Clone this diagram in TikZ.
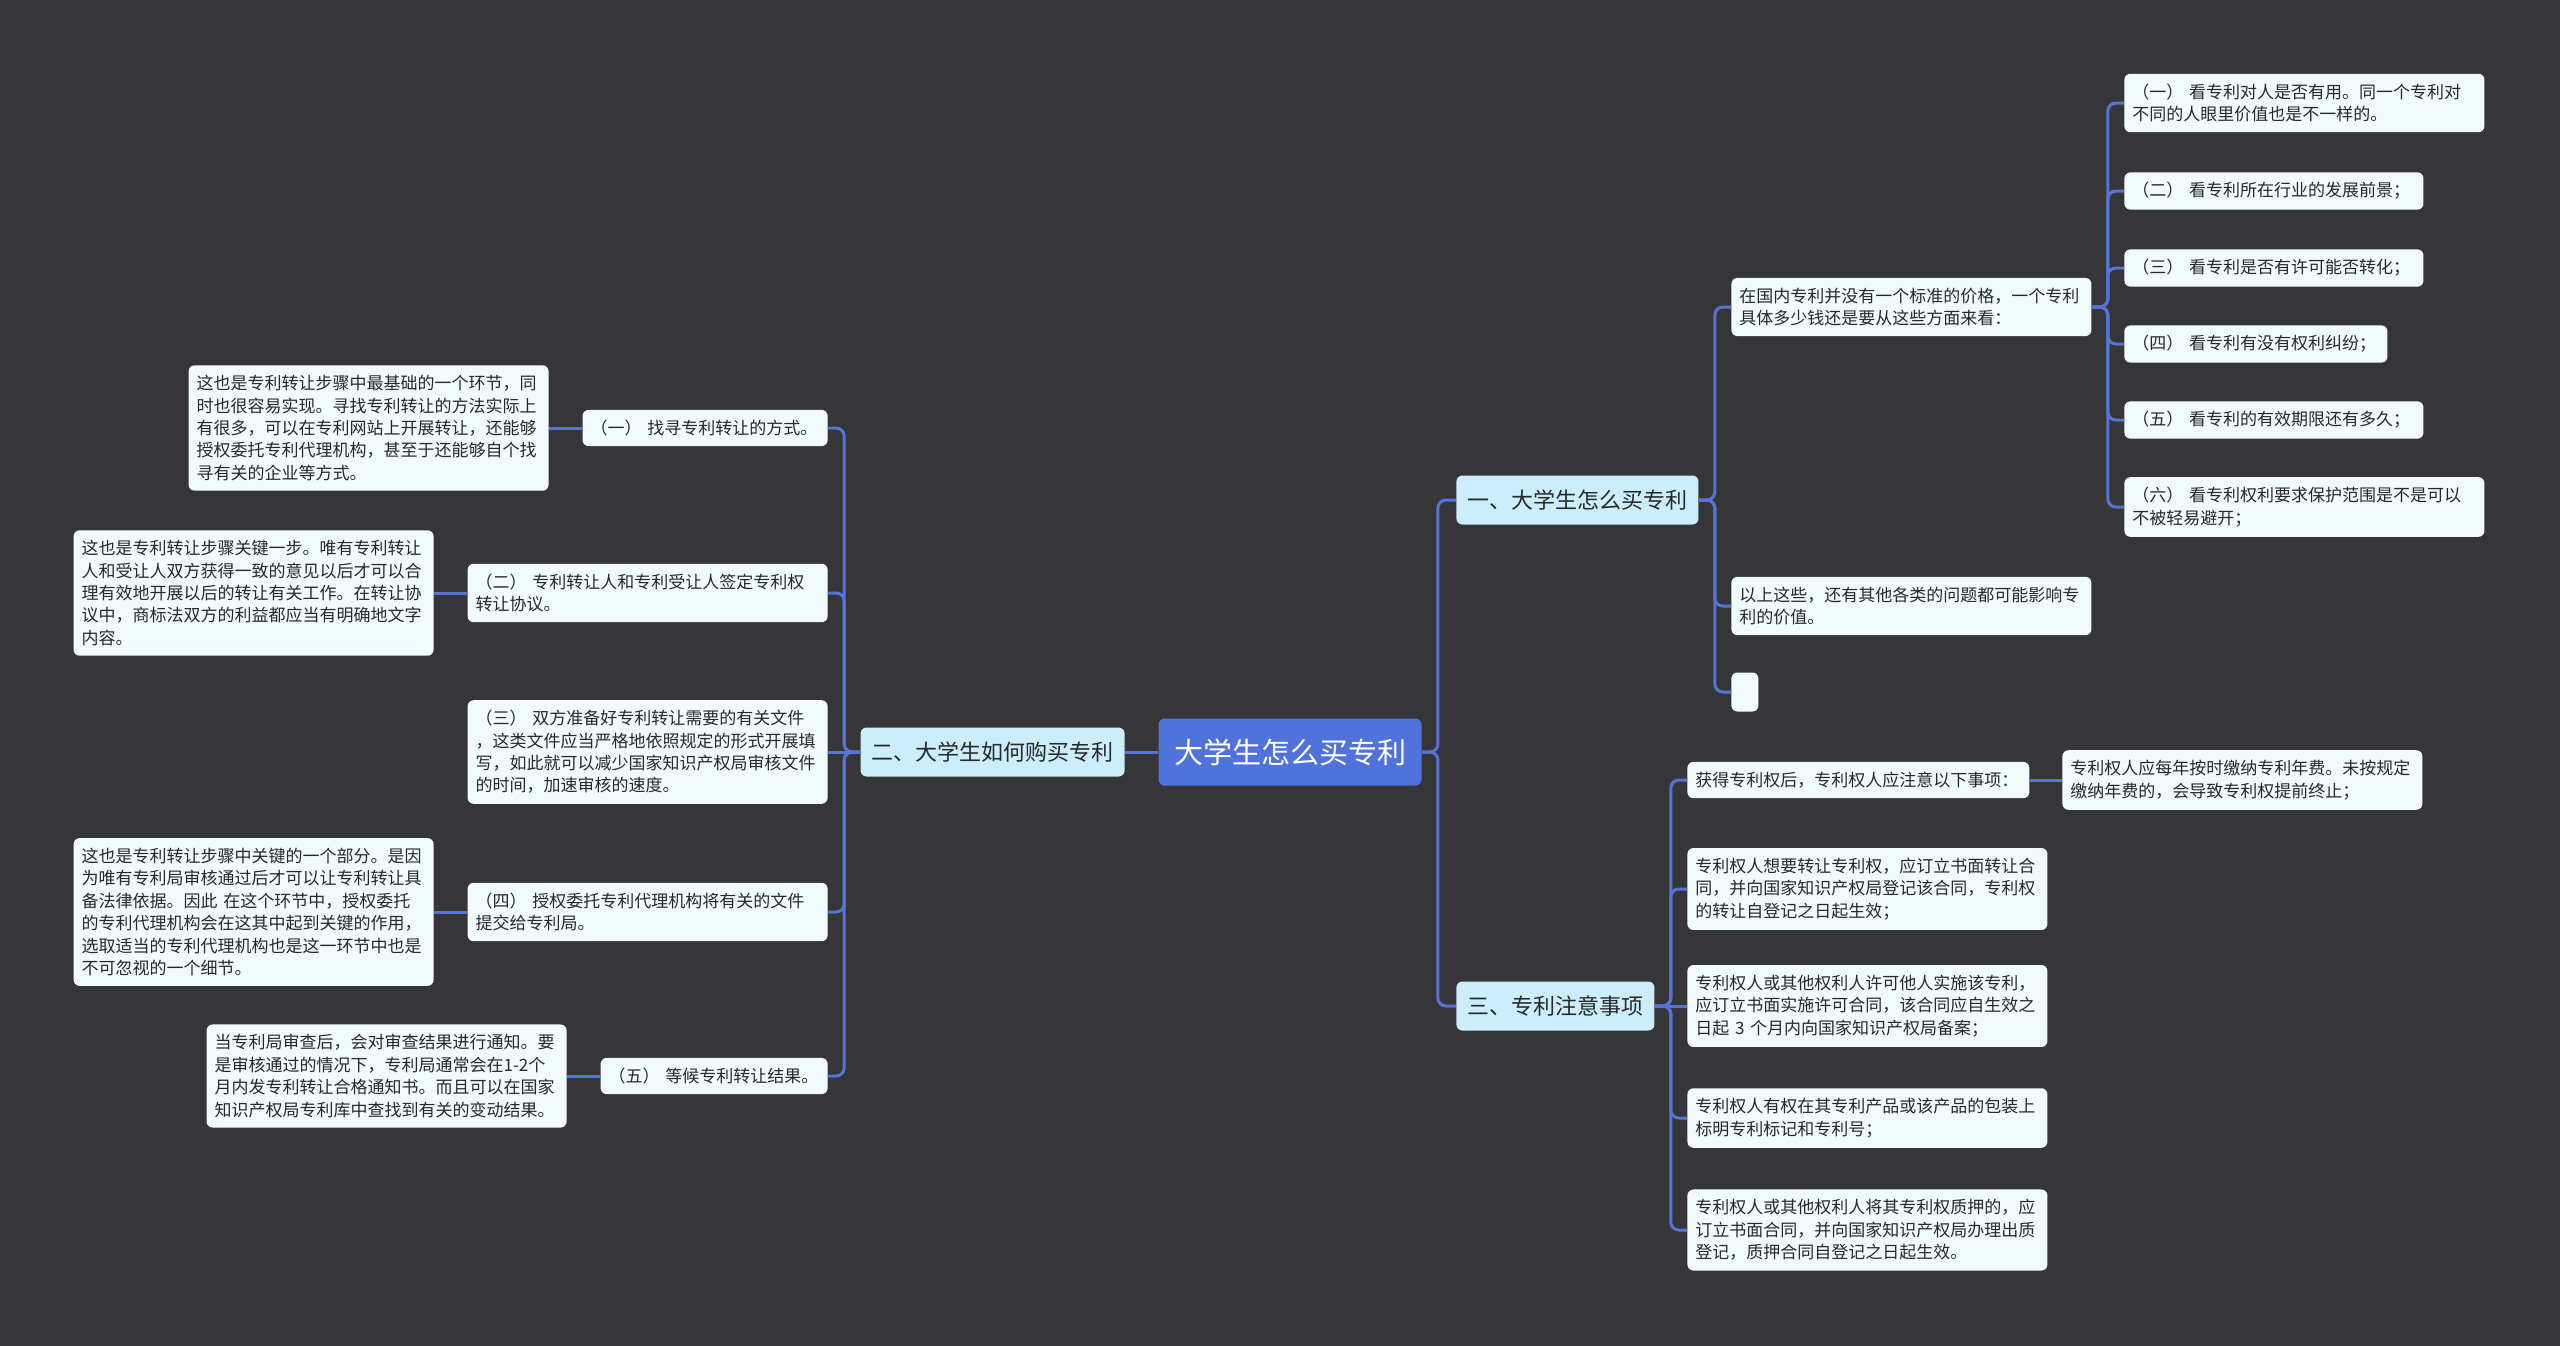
\documentclass[tikz,border=0pt]{standalone}
\usepackage{fontspec}
\setmainfont{Noto Sans CJK SC}
\definecolor{canvas}{RGB}{54,53,55}
\definecolor{rootblue}{RGB}{80,114,219}
\definecolor{linkblue}{RGB}{86,116,216}
\definecolor{topicbg}{RGB}{204,237,252}
\definecolor{leafbg}{RGB}{241,251,253}
\definecolor{ink}{RGB}{40,40,40}
\begin{document}
\begin{tikzpicture}[x=0.5pt, y=-0.5pt,
        root/.style={fill=rootblue, text=white, rounded corners=3pt, font=\fontsize{14.5}{17}\selectfont,
            minimum width=131.5pt, minimum height=33.5pt, inner sep=0pt},
        topic/.style={fill=topicbg, text=ink, rounded corners=3pt, font=\fontsize{11}{13}\selectfont,
            inner xsep=5.5pt, inner ysep=0pt, minimum height=24.5pt},
        leaf/.style={fill=leafbg, text=ink, rounded corners=3pt, font=\fontsize{8.5}{11.2}\selectfont,
            align=left, inner xsep=4pt, inner ysep=5pt, text width=#1},
        leaf/.default=172pt,
        link/.style={draw=linkblue, line width=1.5pt, rounded corners=4pt}]
    \useasboundingbox (0,0) rectangle (2560,1345);
    \fill[canvas] (-10,-10) rectangle (2570,1355);

    \node[root] (root) at (1290,752) {大学生怎么买专利};
    \node[topic, anchor=west] (buy) at (1456,500) {一、大学生怎么买专利};
    \node[topic, anchor=east] (how) at (1125,752) {二、大学生如何购买专利};
    \node[topic, anchor=west] (note) at (1456,1006) {三、专利注意事项};

    \node[leaf, anchor=west] (price) at (1731,307) {在国内专利并没有一个标准的价格，一个专利\\具体多少钱还是要从这些方面来看：};
    \node[leaf, anchor=west] (other) at (1731,606) {以上这些，还有其他各类的问题都可能影响专\\利的价值。};
    \node[leaf=0pt, anchor=west, inner sep=0pt, minimum width=13.5pt, minimum height=19.5pt] (blank) at (1731,692) {};

    \node[leaf, anchor=west] (look1) at (2124,103) {（一）~看专利对人是否有用。同一个专利对\\不同的人眼里价值也是不一样的。};
    \node[leaf=141.5pt, anchor=west] (look2) at (2124,191) {（二）~看专利所在行业的发展前景；};
    \node[leaf=141.5pt, anchor=west] (look3) at (2124,268) {（三）~看专利是否有许可能否转化；};
    \node[leaf=123.5pt, anchor=west] (look4) at (2124,344) {（四）~看专利有没有权利纠纷；};
    \node[leaf=141.5pt, anchor=west] (look5) at (2124,420) {（五）~看专利的有效期限还有多久；};
    \node[leaf, anchor=west] (look6) at (2124,507) {（六）~看专利权利要求保护范围是不是可以\\不被轻易避开；};

    \node[leaf=163pt, anchor=west] (after) at (1687,780) {获得专利权后，专利权人应注意以下事项：};
    \node[leaf, anchor=west] (fee) at (2062,780) {专利权人应每年按时缴纳专利年费。未按规定\\缴纳年费的，会导致专利权提前终止；};
    \node[leaf, anchor=west] (transfer) at (1687,889) {专利权人想要转让专利权，应订立书面转让合\\同，并向国家知识产权局登记该合同，专利权\\的转让自登记之日起生效；};
    \node[leaf, anchor=west] (license) at (1687,1006) {专利权人或其他权利人许可他人实施该专利，\\应订立书面实施许可合同，该合同应自生效之\\日起 3 个月内向国家知识产权局备案；};
    \node[leaf, anchor=west] (mark) at (1687,1118) {专利权人有权在其专利产品或该产品的包装上\\标明专利标记和专利号；};
    \node[leaf, anchor=west] (pledge) at (1687,1230) {专利权人或其他权利人将其专利权质押的，应\\订立书面合同，并向国家知识产权局办理出质\\登记，质押合同自登记之日起生效。};

    \node[leaf=114.5pt, anchor=east] (find) at (828,428) {（一）~找寻专利转让的方式。};
    \node[leaf, anchor=east] (sign) at (828,593) {（二）~专利转让人和专利受让人签定专利权\\转让协议。};
    \node[leaf, anchor=east] (files) at (828,752) {（三）~双方准备好专利转让需要的有关文件\\，这类文件应当严格地依照规定的形式开展填\\写，如此就可以减少国家知识产权局审核文件\\的时间，加速审核的速度。};
    \node[leaf, anchor=east] (agent) at (828,912) {（四）~授权委托专利代理机构将有关的文件\\提交给专利局。};
    \node[leaf=105.5pt, anchor=east] (wait) at (828,1076) {（五）~等候专利转让结果。};

    \node[leaf, anchor=east] (findnote) at (549,428) {这也是专利转让步骤中最基础的一个环节，同\\时也很容易实现。寻找专利转让的方法实际上\\有很多，可以在专利网站上开展转让，还能够\\授权委托专利代理机构，甚至于还能够自个找\\寻有关的企业等方式。};
    \node[leaf, anchor=east] (signnote) at (434,593) {这也是专利转让步骤关键一步。唯有专利转让\\人和受让人双方获得一致的意见以后才可以合\\理有效地开展以后的转让有关工作。在转让协\\议中，商标法双方的利益都应当有明确地文字\\内容。};
    \node[leaf, anchor=east] (agentnote) at (434,912) {这也是专利转让步骤中关键的一个部分。是因\\为唯有专利局审核通过后才可以让专利转让具\\备法律依据。因此 在这个环节中，授权委托\\的专利代理机构会在这其中起到关键的作用，\\选取适当的专利代理机构也是这一环节中也是\\不可忽视的一个细节。};
    \node[leaf, anchor=east] (waitnote) at (567,1076) {当专利局审查后，会对审查结果进行通知。要\\是审核通过的情况下，专利局通常会在1-2个\\月内发专利转让合格通知书。而且可以在国家\\知识产权局专利库中查找到有关的变动结果。};

    \draw[link] (root.east) -- ++(16,0) |- (buy.west);
    \draw[link] (root.east) -- ++(16,0) |- (note.west);
    \draw[link] (root.west) -- (how.east);

    \draw[link] (buy.east) -- ++(16,0) |- (price.west);
    \draw[link] (buy.east) -- ++(16,0) |- (other.west);
    \draw[link] (buy.east) -- ++(16,0) |- (blank.west);

    \draw[link] (price.east) -- ++(16,0) |- (look1.west);
    \draw[link] (price.east) -- ++(16,0) |- (look2.west);
    \draw[link] (price.east) -- ++(16,0) |- (look3.west);
    \draw[link] (price.east) -- ++(16,0) |- (look4.west);
    \draw[link] (price.east) -- ++(16,0) |- (look5.west);
    \draw[link] (price.east) -- ++(16,0) |- (look6.west);

    \draw[link] (note.east) -- ++(16,0) |- (after.west);
    \draw[link] (note.east) -- ++(16,0) |- (transfer.west);
    \draw[link] (note.east) -- (license.west);
    \draw[link] (note.east) -- ++(16,0) |- (mark.west);
    \draw[link] (note.east) -- ++(16,0) |- (pledge.west);
    \draw[link] (after.east) -- (fee.west);

    \draw[link] (how.west) -- ++(-16,0) |- (find.east);
    \draw[link] (how.west) -- ++(-16,0) |- (sign.east);
    \draw[link] (how.west) -- (files.east);
    \draw[link] (how.west) -- ++(-16,0) |- (agent.east);
    \draw[link] (how.west) -- ++(-16,0) |- (wait.east);

    \draw[link] (find.west) -- (findnote.east);
    \draw[link] (sign.west) -- (signnote.east);
    \draw[link] (agent.west) -- (agentnote.east);
    \draw[link] (wait.west) -- (waitnote.east);
\end{tikzpicture}
\end{document}
